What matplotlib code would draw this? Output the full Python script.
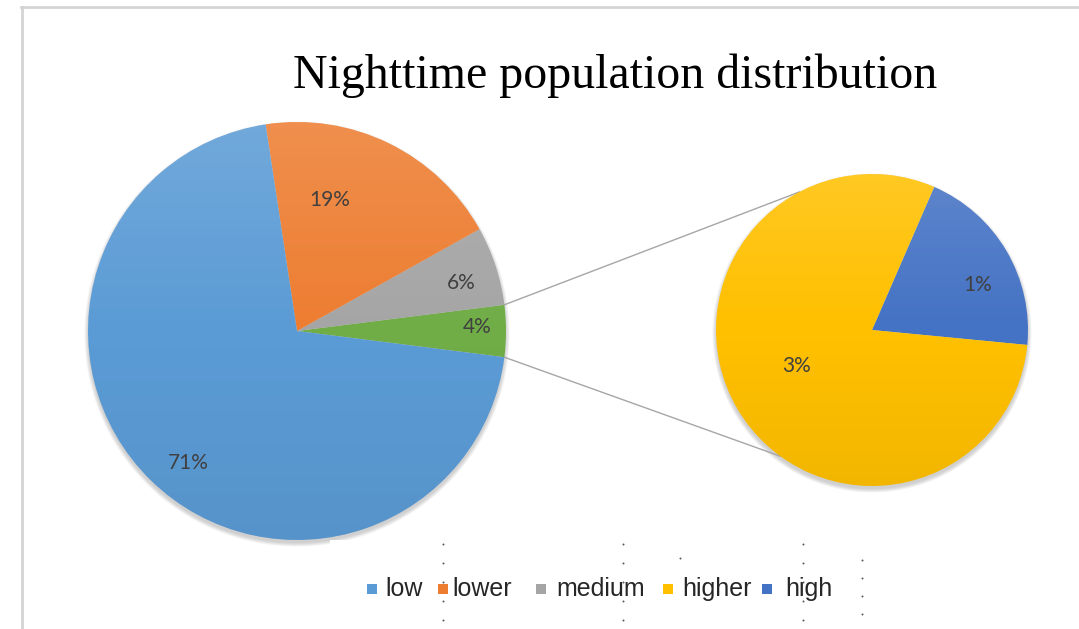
import numpy as np
import matplotlib
matplotlib.use("Agg")
import matplotlib.pyplot as plt
from matplotlib.patches import Circle, Rectangle

W, H = 1079, 629

# data
categories = ["low", "lower", "medium", "higher", "high"]
values = [70.6, 19.3, 6.1, 3.2, 0.8]
colors = ["#5B9BD5", "#ED7D31", "#A5A5A5", "#FFC000", "#4472C4"]
other_color = "#70AD47"
pct_labels = ["71%", "19%", "6%", "3%", "1%"]
other_label = "4%"

# layout (pixel coordinates, y from top)
left_c, left_r = (297, 331), 209
right_c, right_r = (872, 330), 156
right_start = -5.5
right_ends = [117.8, -126.0]
label_xy = {"low": (188, 463), "lower": (330, 200), "medium": (461, 283),
            "other": (477, 327), "higher": (797, 366), "high": (978, 285)}
legend_mark_x = [372, 443, 541, 668, 767]
legend_text_x = [385, 452, 556, 682, 785]
legend_y = 589


def Y(y):
    return H - y


fig = plt.figure(figsize=(W / 100, H / 100), dpi=100)
ax = fig.add_axes([0, 0, 1, 1])

other = values[3] + values[4]

# soft shadows
for (c, r) in [(left_c, left_r), (right_c, right_r)]:
    for k in range(7):
        ax.add_patch(Circle((c[0], Y(c[1]) - 3), r + 0.6 * k, color="#808080",
                            alpha=0.06, lw=0, zorder=1))

# main pie: other, medium, lower, low counter clockwise around the right side
half = other / 100 * 360 / 2
ax.pie([other, values[2], values[1], values[0]],
       colors=[other_color, colors[2], colors[1], colors[0]],
       startangle=-half, counterclock=True, radius=left_r,
       center=(left_c[0], Y(left_c[1])), wedgeprops=dict(linewidth=0, zorder=2))

# secondary pie: high, higher
ax.pie([values[4], values[3]], colors=[colors[4], colors[3]],
       startangle=right_start, counterclock=True, radius=right_r,
       center=(right_c[0], Y(right_c[1])), wedgeprops=dict(linewidth=0, zorder=2))

# light gradient over each pie
grad = np.zeros((100, 1, 4))
t = np.linspace(0, 1, 100)
grad[:, 0, :3] = np.where(t[:, None] < 0.5, 1.0, 0.0)
grad[:, 0, 3] = np.where(t < 0.5, 0.14 * (1 - t / 0.5), 0.05 * (t - 0.5) / 0.5)
for (c, r) in [(left_c, left_r), (right_c, right_r)]:
    im = ax.imshow(grad, extent=[c[0] - r, c[0] + r, Y(c[1]) - r, Y(c[1]) + r],
                   aspect="auto", zorder=3, interpolation="bilinear")
    im.set_clip_path(Circle((c[0], Y(c[1])), r, transform=ax.transData))

# white patch hiding part of the shadow
ax.add_patch(Rectangle((330, Y(560)), 220, 20, color="white", lw=0, zorder=1.5))

# connector lines
for sgn, ang in zip([1, -1], right_ends):
    a0 = np.radians(sgn * half)
    x0 = left_c[0] + left_r * np.cos(a0)
    y0 = Y(left_c[1]) + left_r * np.sin(a0)
    a1 = np.radians(ang)
    x1 = right_c[0] + right_r * np.cos(a1)
    y1 = Y(right_c[1]) + right_r * np.sin(a1)
    ax.plot([x0, x1], [y0, y1], color="#A6A6A6", lw=1.0, zorder=1.8)

# percentage labels
lab_font = dict(fontsize=15, color="#404040", family=["Lato", "DejaVu Sans"],
                ha="center", va="center", zorder=5)
for name, lab in zip(categories, pct_labels):
    x, y = label_xy[name]
    ax.text(x, Y(y), lab, **lab_font)
x, y = label_xy["other"]
ax.text(x, Y(y), other_label, **lab_font)

# title
ax.text(615, Y(88), "Nighttime population distribution", fontsize=34.5,
        family=["Liberation Serif"], color="black", ha="center", va="baseline")

# legend
for name, col, mx, tx in zip(categories, colors, legend_mark_x, legend_text_x):
    ax.scatter([mx], [Y(legend_y)], marker="s", s=45, color=col, lw=0, zorder=5)
    ax.text(tx, Y(legend_y), name, fontsize=18, family=["Liberation Sans"],
            color="#262626", ha="left", va="center")

# selection handle dots around the legend box
for dx in [443, 623, 803]:
    ax.scatter([dx] * 5, [Y(v) for v in [544, 563, 582, 601, 620]], s=2,
               color="#555555", lw=0, zorder=6)
ax.scatter([862] * 4, [Y(v) for v in [560, 578, 596, 614]], s=2,
           color="#555555", lw=0, zorder=6)
ax.scatter([680], [Y(558)], s=2, color="#555555", lw=0, zorder=6)

# frame lines
ax.plot([21, W], [Y(7), Y(7)], color="#D4D4D4", lw=2, zorder=6)
ax.plot([22, 22], [Y(7), 0], color="#D4D4D4", lw=2, zorder=6)

ax.set_xlim(0, W)
ax.set_ylim(0, H)
ax.set_aspect("auto")
ax.axis("off")
fig.savefig("out.png", dpi=100, facecolor="white")
